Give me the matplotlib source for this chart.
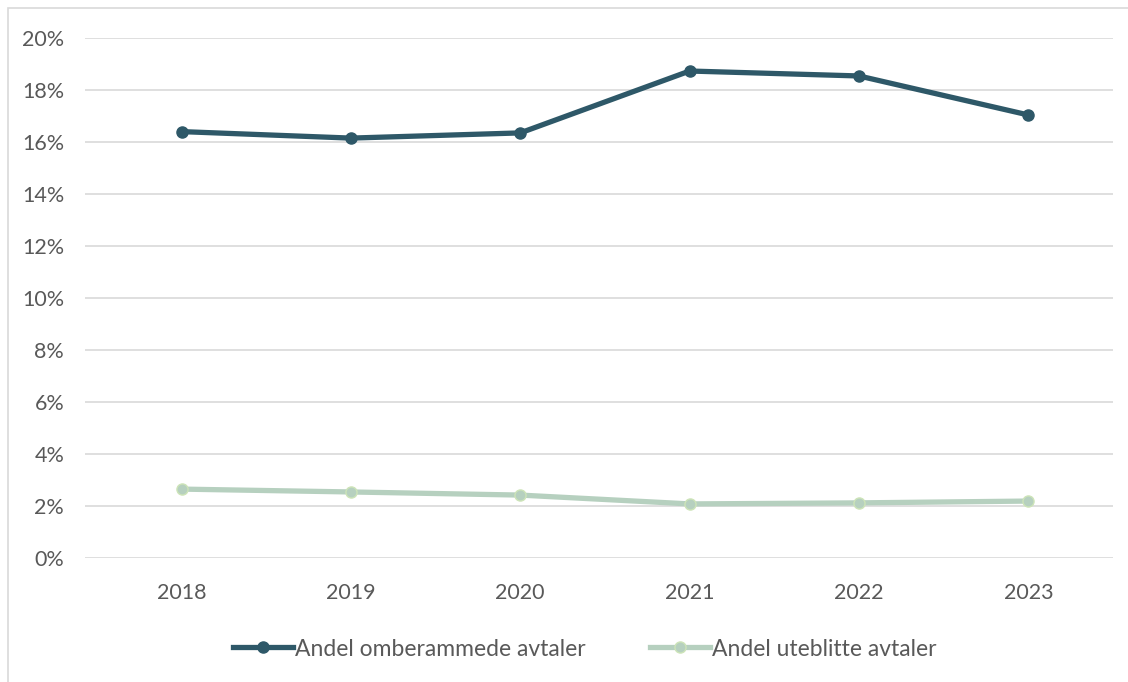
import matplotlib
matplotlib.use('Agg')
import matplotlib.pyplot as plt
from matplotlib.patches import Rectangle
from matplotlib.ticker import PercentFormatter

# Data
years = ['2018', '2019', '2020', '2021', '2022', '2023']
omberammede = [16.4, 16.15, 16.35, 18.73, 18.54, 17.04]
uteblitte = [2.65, 2.54, 2.42, 2.08, 2.12, 2.19]

plt.rcParams['font.family'] = ['Lato', 'DejaVu Sans']

fig = plt.figure(figsize=(11.28, 6.82), dpi=100)
# outer chart frame
fig.patches.append(Rectangle((8 / 1128, -0.01), 1.2, (682 - 8) / 682 + 0.01,
                             transform=fig.transFigure, fill=False,
                             edgecolor='#D9D9D9', linewidth=1.2))

ax = fig.add_axes([85 / 1128, (682 - 558) / 682, (1113 - 85) / 1128, (558 - 38) / 682])

x = range(len(years))
ax.plot(x, omberammede, color='#2E5868', linewidth=3.8, marker='o', markersize=8,
        markeredgecolor='#2E5868', label='Andel omberammede avtaler', zorder=3)
ax.plot(x, uteblitte, color='#B6D0BF', linewidth=3.8, marker='o', markersize=8,
        markerfacecolor='#B6D0BF', markeredgecolor='#CDE4B8',
        label='Andel uteblitte avtaler', zorder=3)

ax.set_ylim(0, 20)
ax.set_yticks(range(0, 21, 2))
ax.yaxis.set_major_formatter(PercentFormatter(decimals=0))
ax.set_xlim(-0.57, 5.5)
ax.set_xticks(list(x))
ax.set_xticklabels(years)

ax.grid(axis='y', color='#D9D9D9', linewidth=1.2)
ax.set_axisbelow(True)
for s in ax.spines.values():
    s.set_visible(False)
ax.tick_params(axis='both', length=0, labelsize=15.5, labelcolor='#595959')
ax.tick_params(axis='y', pad=15)
ax.tick_params(axis='x', pad=18)

fig.legend(loc='center', bbox_to_anchor=(585 / 1128, 1 - 649 / 682), ncol=2,
           frameon=False, fontsize=16.5, labelcolor='#595959',
           handlelength=2.6, handletextpad=0.1, columnspacing=2.8)

fig.savefig('out.png', dpi=100)
